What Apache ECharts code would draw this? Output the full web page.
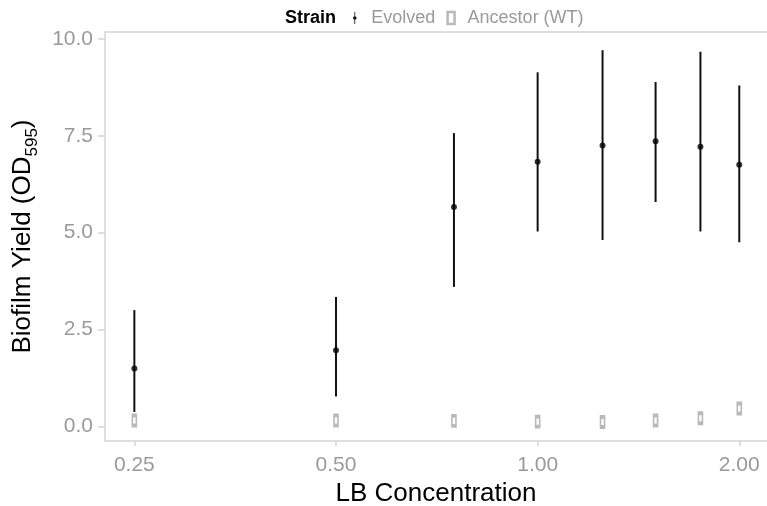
<!DOCTYPE html>
<html>
<head>
    <meta http-equiv="Content-Type" content="text/html; charset=utf-8" />
    <style type="text/css">
        body, html, #chart {width: 100%; height: 100%; overflow: hidden; margin: 0; background: #fff;}
    </style>
    <title>Biofilm yield</title>
</head>
<body>
<div id="chart"></div>
<script src="https://cdn.jsdelivr.net/npm/echarts@6/dist/echarts.min.js"></script>
<script type="text/javascript">
    // LB concentration (x, log2 axis)
    var conc = [0.25, 0.5, 0.75, 1.0, 1.25, 1.5, 1.75, 2.0];
    // evolved strain: mean and error bar ends
    var evolvedMean = [1.49, 1.96, 5.66, 6.83, 7.25, 7.36, 7.22, 6.75];
    var evolvedLow  = [0.37, 0.77, 3.60, 5.03, 4.81, 5.79, 5.03, 4.75];
    var evolvedHigh = [3.00, 3.34, 7.57, 9.14, 9.71, 8.89, 9.67, 8.80];
    // ancestor (WT)
    var ancestorMean = [0.15, 0.15, 0.14, 0.12, 0.11, 0.15, 0.21, 0.46];
    var yTicks = [0, 2.5, 5, 7.5, 10];

    var font = '"Liberation Sans", Arial, sans-serif';
    var grey = '#9a9a9a';
    var lineGrey = '#d4d4d4';

    var evolvedPts = conc.map(function (c, i) { return [c, evolvedMean[i]]; });
    var evolvedBars = conc.map(function (c, i) { return [c, evolvedLow[i], evolvedHigh[i]]; });
    var ancestorPts = conc.map(function (c, i) { return [c, ancestorMean[i]]; });

    var chart = echarts.init(document.getElementById('chart'));
    chart.setOption({
        animation: false,
        title: {
            text: 'Strain',
            left: 285, top: 9, padding: 0,
            textStyle: {fontFamily: font, fontSize: 18, fontWeight: 'bold', color: '#000'}
        },
        legend: {
            left: 353, top: 9, padding: 0,
            itemWidth: 7, itemHeight: 12, itemGap: 11,
            textStyle: {fontFamily: font, fontSize: 18, color: grey, padding: [0, 0, 0, 8]},
            data: [
                {name: 'Evolved', icon: 'path://M2.6,0 L3.4,0 L3.4,12 L2.6,12 Z M3,4.2 A1.8,1.8 0 1 1 3,7.8 A1.8,1.8 0 1 1 3,4.2 Z'},
                {name: 'Ancestor (WT)', icon: 'rect', itemStyle: {color: '#fff', borderColor: '#a8a8a8', borderWidth: 2.5}}
            ]
        },
        grid: {left: 105, right: 0, top: 32, bottom: 65, outerBoundsMode: 'none'},
        xAxis: [{
            type: 'log', logBase: 2,
            min: 0.226, max: 2.2,
            name: 'LB Concentration',
            nameLocation: 'middle', nameGap: 38,
            nameTextStyle: {fontFamily: font, fontSize: 26, color: '#000'},
            axisLine: {onZero: false, lineStyle: {color: lineGrey, width: 1.5}},
            axisTick: {length: 5, lineStyle: {color: lineGrey, width: 1.5}},
            axisLabel: {
                fontFamily: font, fontSize: 21, color: grey, margin: 14,
                showMinLabel: false, showMaxLabel: false,
                formatter: function (v) { return v.toFixed(2); }
            },
            splitLine: {show: false}
        }, {
            type: 'value', position: 'top',
            axisLine: {show: true, onZero: false, lineStyle: {color: lineGrey, width: 1.5}},
            axisTick: {show: false}, axisLabel: {show: false}, splitLine: {show: false}
        }],
        yAxis: {
            type: 'value',
            min: -0.38, max: 10.18,
            name: '{t|Biofilm Yield (OD}{s|595}{t|)}',
            nameLocation: 'middle', nameGap: 66,
            nameTextStyle: {
                rich: {
                    t: {fontFamily: font, fontSize: 26, color: '#000', lineHeight: 30, verticalAlign: 'bottom'},
                    s: {fontFamily: font, fontSize: 17, color: '#000', lineHeight: 30, verticalAlign: 'bottom', padding: [0, 0, -5, 0]}
                }
            },
            axisLine: {show: true, onZero: false, lineStyle: {color: lineGrey, width: 1.5}},
            axisTick: {show: true, length: 7, customValues: yTicks, lineStyle: {color: lineGrey, width: 1.5}},
            axisLabel: {
                fontFamily: font, fontSize: 21, color: grey, margin: 12,
                customValues: yTicks,
                formatter: function (v) { return v.toFixed(1); }
            },
            splitLine: {show: false}
        },
        series: [{
            name: 'Evolved',
            type: 'custom',
            data: evolvedBars,
            renderItem: function (params, api) {
                var a = api.coord([api.value(0), api.value(1)]);
                var b = api.coord([api.value(0), api.value(2)]);
                return {
                    type: 'line',
                    shape: {x1: a[0], y1: a[1], x2: b[0], y2: b[1]},
                    style: {stroke: '#111', lineWidth: 2}
                };
            },
            itemStyle: {color: '#111'},
            z: 2
        }, {
            name: 'Evolved',
            type: 'scatter',
            data: evolvedPts,
            symbol: 'circle', symbolSize: 6,
            itemStyle: {color: '#000'},
            z: 3
        }, {
            name: 'Ancestor (WT)',
            type: 'scatter',
            data: ancestorPts,
            symbol: 'rect', symbolSize: [4, 10],
            itemStyle: {color: '#fff', borderColor: '#a8a8a8', borderWidth: 2.5},
            z: 3
        }]
    });
</script>
</body>
</html>
